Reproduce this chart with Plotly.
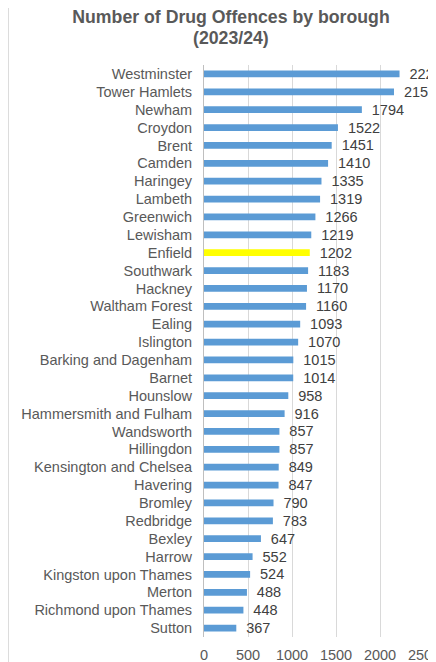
import plotly.graph_objects as go

boroughs = [
    "Westminster", "Tower Hamlets", "Newham", "Croydon", "Brent", "Camden",
    "Haringey", "Lambeth", "Greenwich", "Lewisham", "Enfield", "Southwark",
    "Hackney", "Waltham Forest", "Ealing", "Islington", "Barking and Dagenham",
    "Barnet", "Hounslow", "Hammersmith and Fulham", "Wandsworth", "Hillingdon",
    "Kensington and Chelsea", "Havering", "Bromley", "Redbridge", "Bexley",
    "Harrow", "Kingston upon Thames", "Merton", "Richmond upon Thames", "Sutton",
]
offences = [
    2222, 2159, 1794, 1522, 1451, 1410, 1335, 1319, 1266, 1219, 1202, 1183,
    1170, 1160, 1093, 1070, 1015, 1014, 958, 916, 857, 857, 849, 847, 790,
    783, 647, 552, 524, 488, 448, 367,
]
highlight = "Enfield"
x_ticks = [0, 500, 1000, 1500, 2000, 2500]

bar_colors = ["#FFFF00" if b == highlight else "#5B9BD5" for b in boroughs]
# small leading space pushes the value labels a bit away from the bar ends
labels = ["\u00a0\u2009" + str(v) for v in offences]

fig = go.Figure()
fig.add_trace(go.Bar(
    x=offences,
    y=boroughs,
    orientation="h",
    marker=dict(color=bar_colors, line=dict(width=0)),
    text=labels,
    textposition="outside",
    constraintext="none",
    textfont=dict(color="#404040", size=14.5),
    cliponaxis=False,
    width=0.38,
))

# light frame line on the left of the chart area
fig.add_shape(type="line", xref="paper", yref="paper",
              x0=-0.889, x1=-0.889, y0=-0.1, y1=1.2,
              line=dict(color="#D9D9D9", width=1))

# second title line, set tighter than a <br> would give
fig.add_annotation(
    text="<b>(2023/24)</b>", showarrow=False,
    xref="paper", yref="paper", x=0.1227, y=1.047,
    xanchor="center", yanchor="middle",
    font=dict(size=17.7, color="#595959"),
)

fig.update_layout(
    width=428,
    height=654,
    margin=dict(l=196, r=12, t=57, b=24.5, autoexpand=False),
    paper_bgcolor="white",
    plot_bgcolor="white",
    font=dict(family="Liberation Sans, Arial, sans-serif", color="#595959", size=14.5),
    title=dict(
        text="<b>Number of Drug Offences by borough</b>",
        x=0.521, xanchor="center", xref="container",
        y=0.987, yanchor="middle", yref="container",
        font=dict(size=17.7, color="#595959"),
        automargin=False,
    ),
    showlegend=False,
    uniformtext=dict(mode=False),
    xaxis=dict(
        range=[0, 2500],
        tickvals=x_ticks,
        showgrid=True,
        gridcolor="#D9D9D9",
        gridwidth=1,
        zeroline=False,
        showline=False,
        ticks="outside",
        ticklen=5,
        tickcolor="rgba(0,0,0,0)",
        tickfont=dict(size=14.5, color="#595959"),
        ticklabeloverflow="allow",
        automargin=False,
    ),
    yaxis=dict(
        categoryorder="array",
        categoryarray=boroughs[::-1],
        showline=True,
        linecolor="#BFBFBF",
        linewidth=1,
        ticks="outside",
        ticklen=8,
        tickcolor="rgba(0,0,0,0)",
        showgrid=False,
        tickfont=dict(size=14.5, color="#595959"),
        automargin=False,
    ),
    bargap=0.6,
)

fig.write_html("out.html")
